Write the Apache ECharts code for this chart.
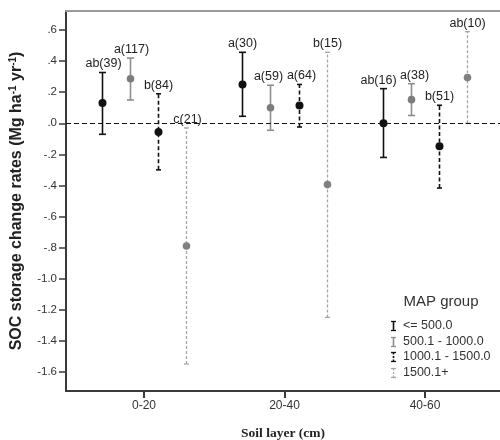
<!DOCTYPE html>
<html>
<head>
<meta charset="utf-8">
<script src="https://cdn.jsdelivr.net/npm/echarts@6/dist/echarts.min.js"></script>
<style>
  html, body { margin: 0; padding: 0; background: #fff; }
  #chart { width: 500px; height: 440px; }
</style>
</head>
<body>
<div id="chart"></div>
<script>
// Soil layers on the x axis
const categories = ['0-20', '20-40', '40-60'];

// MAP (mean annual precipitation) groups
const groupNames = ['<= 500.0', '500.1 - 1000.0', '1000.1 - 1500.0', '1500.1+'];

// Mean SOC storage change rate per group, one value per soil layer
const meanLe500    = [0.13, 0.25, 0.00];
const mean500to1000  = [0.287, 0.10, 0.152];
const mean1000to1500 = [-0.056, 0.114, -0.148];
const meanGt1500   = [-0.79, -0.395, 0.294];

// Upper ends of the error bars
const upperLe500    = [0.327, 0.457, 0.223];
const upper500to1000  = [0.42, 0.245, 0.255];
const upper1000to1500 = [0.19, 0.25, 0.116];
const upperGt1500   = [-0.03, 0.457, 0.59];

// Lower ends of the error bars
const lowerLe500    = [-0.071, 0.045, -0.22];
const lower500to1000  = [0.15, -0.045, 0.05];
const lower1000to1500 = [-0.30, -0.024, -0.417];
const lowerGt1500   = [-1.55, -1.25, 0.0];

// Significance letters and sample sizes
const labelLe500    = ['ab(39)', 'a(30)', 'ab(16)'];
const label500to1000  = ['a(117)', 'a(59)', 'a(38)'];
const label1000to1500 = ['b(84)', 'a(64)', 'b(51)'];
const labelGt1500   = ['c(21)', 'b(15)', 'ab(10)'];

// Y axis ticks and their printed labels
const yTickValues = [0.6, 0.4, 0.2, 0.0, -0.2, -0.4, -0.6, -0.8, -1.0, -1.2, -1.4, -1.6];
const yTickLabels = ['.6', '.4', '.2', '.0', '-.2', '-.4', '-.6', '-.8', '-1.0', '-1.2', '-1.4', '-1.6'];

const means  = [meanLe500, mean500to1000, mean1000to1500, meanGt1500];
const uppers = [upperLe500, upper500to1000, upper1000to1500, upperGt1500];
const lowers = [lowerLe500, lower500to1000, lower1000to1500, lowerGt1500];
const labels = [labelLe500, label500to1000, label1000to1500, labelGt1500];

const SANS = '"Liberation Sans", Arial, sans-serif';
const SERIF = '"Liberation Serif", "Times New Roman", serif';

// dodge position of each group inside a soil layer
const offsets = [-0.3, -0.1, 0.1, 0.3];

// horizontal pixel nudges keeping neighbouring annotations apart [group][layer]
const labelNudge = [
  [1, 0, -5],
  [1, -2, 3],
  [0, 2, 0],
  [1, 0, 0]
];

const styles = [
  { color: '#111', dot: '#111', r: 4, dash: null, width: 1.6, cap: 7 },
  { color: '#8e8e8e', dot: '#7c7c7c', r: 3.8, dash: null, width: 1.6, cap: 7 },
  { color: '#111', dot: '#111', r: 4, dash: [4, 2.5], width: 1.6, cap: 5 },
  { color: '#a6a6a6', dot: '#808080', r: 3.8, dash: [3, 2], width: 1.3, cap: 5 }
];

function buildData(g) {
  return categories.map((c, i) => [i + 1 + offsets[g], means[g][i], lowers[g][i], uppers[g][i]]);
}

function makeRender(g) {
  const st = styles[g];
  return function (params, api) {
    const x = api.value(0);
    const pm = api.coord([x, api.value(1)]);
    const pl = api.coord([x, api.value(2)]);
    const ph = api.coord([x, api.value(3)]);
    const px = Math.round(pm[0]) + 0.5;
    const half = st.cap / 2;
    const lineStyle = { stroke: st.color, lineWidth: st.width, lineDash: st.dash || null };
    const capStyle = { stroke: st.color, lineWidth: st.width };
    return {
      type: 'group',
      children: [
        { type: 'line', shape: { x1: px, y1: pl[1], x2: px, y2: ph[1] }, style: lineStyle },
        { type: 'line', shape: { x1: px - half, y1: ph[1], x2: px + half, y2: ph[1] }, style: capStyle },
        { type: 'line', shape: { x1: px - half, y1: pl[1], x2: px + half, y2: pl[1] }, style: capStyle },
        { type: 'circle', shape: { cx: px, cy: pm[1], r: st.r }, style: { fill: st.dot } },
        {
          type: 'text',
          style: {
            text: labels[g][params.dataIndex],
            x: px + labelNudge[g][params.dataIndex], y: ph[1] - 2,
            align: 'center', verticalAlign: 'bottom',
            font: '12.5px ' + SANS, fill: '#222'
          }
        }
      ]
    };
  };
}

const series = groupNames.map((name, g) => ({
  type: 'custom',
  name: name,
  data: buildData(g),
  encode: { x: 0, y: [1, 2, 3] },
  renderItem: makeRender(g),
  z: 3
}));

// dashed reference line at zero
series[0].markLine = {
  silent: true,
  symbol: 'none',
  label: { show: false },
  lineStyle: { color: '#111', type: [5, 3], width: 1.2 },
  data: [{ yAxis: 0 }]
};

// legend drawn as small error-bar glyphs
const legendRowsY = [326, 342, 357, 373];
const legendElements = [
  {
    type: 'text', silent: true,
    style: { text: 'MAP group', x: 441, y: 302, align: 'center', verticalAlign: 'middle', font: '15px ' + SANS, fill: '#333' }
  }
];
groupNames.forEach((name, g) => {
  const st = styles[g];
  const y = legendRowsY[g];
  const x = 393.5;
  legendElements.push(
    { type: 'line', silent: true, shape: { x1: x, y1: y - 4.5, x2: x, y2: y + 4.5 }, style: { stroke: st.color, lineWidth: st.width, lineDash: st.dash ? [2, 1.5] : null } },
    { type: 'line', silent: true, shape: { x1: x - 2.5, y1: y - 4.5, x2: x + 2.5, y2: y - 4.5 }, style: { stroke: st.color, lineWidth: 1.3 } },
    { type: 'line', silent: true, shape: { x1: x - 2.5, y1: y + 4.5, x2: x + 2.5, y2: y + 4.5 }, style: { stroke: st.color, lineWidth: 1.3 } },
    { type: 'text', silent: true, style: { text: name, x: 403, y: y, align: 'left', verticalAlign: 'middle', font: '12.5px ' + SANS, fill: '#333' } }
  );
});

const chart = echarts.init(document.getElementById('chart'), null, { renderer: 'canvas' });
chart.setOption({
  backgroundColor: '#fff',
  animation: false,
  grid: { left: 66, right: 0, top: 11, bottom: 49, containLabel: false, outerBoundsMode: 'none' },
  xAxis: [
    {
      type: 'value', position: 'bottom', min: 0.445, max: 3.534,
      axisLine: { show: true, onZero: false, lineStyle: { color: '#3a3a3a', width: 2 } },
      axisTick: { show: true, customValues: [1, 2, 3], length: 7, lineStyle: { color: '#3a3a3a', width: 2 } },
      axisLabel: {
        customValues: [1, 2, 3],
        formatter: v => categories[Math.round(v) - 1],
        color: '#333', fontSize: 12, fontFamily: SANS, margin: 9
      },
      splitLine: { show: false },
      name: 'Soil layer (cm)', nameLocation: 'middle', nameGap: 36,
      nameTextStyle: { fontFamily: SERIF, fontWeight: 'bold', fontSize: 13.5, color: '#222' }
    },
    {
      type: 'value', position: 'top', min: 0.445, max: 3.534,
      axisLine: { show: true, onZero: false, lineStyle: { color: '#9a9a9a', width: 2 } },
      axisTick: { show: false }, axisLabel: { show: false }, splitLine: { show: false }
    }
  ],
  yAxis: {
    type: 'value', min: -1.724, max: 0.723,
    axisLine: { show: true, onZero: false, lineStyle: { color: '#3a3a3a', width: 2 } },
    axisTick: { show: true, customValues: yTickValues, length: 7, lineStyle: { color: '#3a3a3a', width: 1.5 } },
    axisLabel: {
      customValues: yTickValues,
      formatter: v => yTickLabels[yTickValues.findIndex(t => Math.abs(t - v) < 1e-6)],
      color: '#333', fontSize: 11.5, fontFamily: SANS, margin: 9
    },
    splitLine: { show: false },
    name: '{b|SOC storage change rates (Mg ha}{s|-1}{b| yr}{s|-1}{b|)}',
    nameLocation: 'middle', nameGap: 40, nameRotate: 90,
    nameTextStyle: {
      rich: {
        b: { fontFamily: SANS, fontWeight: 'bold', fontSize: 16, color: '#222', lineHeight: 18 },
        s: { fontFamily: SANS, fontWeight: 'bold', fontSize: 10, color: '#222', verticalAlign: 'top', lineHeight: 18 }
      }
    }
  },
  series: series,
  graphic: legendElements
});
</script>
</body>
</html>
